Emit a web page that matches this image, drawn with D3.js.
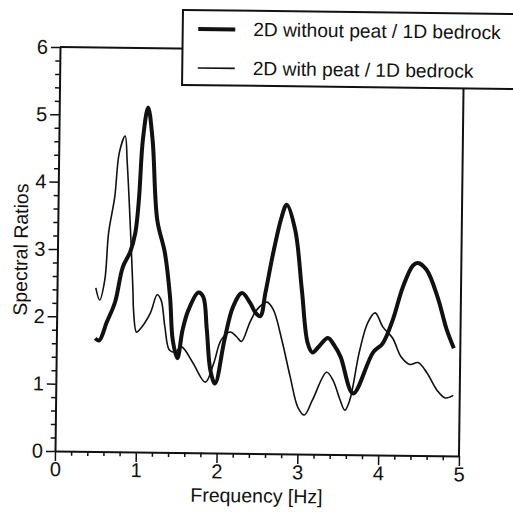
<!DOCTYPE html>
<html>
<head>
<meta charset="utf-8">
<script src="https://cdn.jsdelivr.net/npm/d3@7"></script>
<style>
  html, body { margin: 0; padding: 0; background: #fff; }
  text { font-family: "Liberation Sans", Arial, Helvetica, sans-serif; fill: #111; }
</style>
</head>
<body>
<svg id="chart" width="513" height="515"></svg>
<script>
// ---- data ----
const seriesNames = ["2D without peat / 1D bedrock", "2D with peat / 1D bedrock"];

const freqNoPeat = [0.48,0.53,0.62,0.72,0.81,0.90,0.96,1.00,1.04,1.10,1.16,1.23,1.33,1.40,1.44,1.50,1.56,1.63,1.75,1.81,1.86,1.91,1.97,2.08,2.18,2.29,2.39,2.46,2.52,2.58,2.67,2.77,2.83,2.94,3.03,3.11,3.17,3.25,3.36,3.44,3.52,3.68,3.92,4.04,4.16,4.28,4.40,4.46,4.57,4.71,4.83,4.92];
const ratioNoPeat = [1.68,1.65,1.92,2.22,2.74,2.97,3.25,3.75,4.64,5.12,4.64,3.45,2.96,2.31,1.67,1.40,1.82,2.12,2.38,2.32,1.83,1.23,1.03,1.68,2.17,2.38,2.24,2.09,2.04,2.39,2.98,3.52,3.70,3.32,2.44,1.65,1.51,1.60,1.73,1.62,1.45,0.91,1.52,1.66,2.01,2.50,2.82,2.86,2.76,2.36,1.87,1.60];

const freqPeat = [0.48,0.53,0.59,0.63,0.70,0.75,0.82,0.85,0.90,0.94,0.95,0.99,1.03,1.16,1.24,1.29,1.34,1.40,1.47,1.55,1.69,1.85,1.95,2.04,2.15,2.23,2.29,2.39,2.48,2.60,2.68,2.79,2.90,3.00,3.08,3.18,3.35,3.43,3.52,3.58,3.64,3.75,3.85,3.94,4.04,4.16,4.27,4.38,4.48,4.59,4.72,4.82,4.92];
const ratioPeat = [2.43,2.25,2.55,3.25,3.78,4.44,4.69,4.29,3.30,2.40,2.11,1.78,1.82,2.07,2.34,2.26,1.87,1.52,1.49,1.57,1.34,1.05,1.33,1.68,1.80,1.73,1.66,1.94,2.14,2.25,2.14,1.69,1.14,0.69,0.58,0.81,1.22,1.10,0.81,0.66,0.81,1.52,1.96,2.11,1.90,1.74,1.46,1.35,1.38,1.23,0.97,0.86,0.90];

const xTickValues = [0,1,2,3,4,5];
const yTickValues = [0,1,2,3,4,5,6];
const xTitle = "Frequency [Hz]";
const yTitle = "Spectral Ratios";

// ---- drawing ----
const svg = d3.select("#chart");
const x = d3.scaleLinear().domain([0,5]).range([55,459]);
const y = d3.scaleLinear().domain([0,6]).range([451,47]);

// the scanned figure is slightly tilted
const g = svg.append("g").attr("transform", "rotate(0.71, 55, 451)");

// frame (top & right)
g.append("path")
  .attr("d", `M${x(0)},${y(6)}H${x(5)}V${y(0)}`)
  .attr("fill","none").attr("stroke","#111").attr("stroke-width",2);

const minorX = d3.range(0, 5.001, 0.2).map(v => +v.toFixed(1)).filter(v => !xTickValues.includes(v));
const minorY = d3.range(0, 6.001, 0.2).map(v => +v.toFixed(1)).filter(v => !yTickValues.includes(v));

// x axis
const xAxisG = g.append("g").attr("transform", `translate(0,${y(0)})`);
xAxisG.call(d3.axisBottom(x).tickValues(xTickValues).tickSize(10).tickSizeOuter(0).tickPadding(1).tickFormat(d3.format("d")));
xAxisG.append("g").call(d3.axisBottom(x).tickValues(minorX).tickSize(4.5).tickSizeOuter(0).tickFormat(""))
  .select(".domain").remove();

// y axis
const yAxisG = g.append("g").attr("transform", `translate(${x(0)},0)`);
yAxisG.call(d3.axisLeft(y).tickValues(yTickValues).tickSize(9).tickSizeOuter(0).tickPadding(3).tickFormat(d3.format("d")));
yAxisG.append("g").call(d3.axisLeft(y).tickValues(minorY).tickSize(4.5).tickSizeOuter(0).tickFormat(""))
  .select(".domain").remove();

g.selectAll(".domain").attr("stroke","#111").attr("stroke-width",2);
g.selectAll(".tick line").attr("stroke","#111").attr("stroke-width",1.5);
g.selectAll(".tick text").style("font-size","20px").style("font-family","'Liberation Sans', Arial, sans-serif").attr("fill","#111");

// titles
g.append("text").attr("x", 257).attr("y", 500).attr("text-anchor","middle")
  .style("font-size","19.5px").text(xTitle);
g.append("text").attr("transform","translate(25,250) rotate(-90)").attr("text-anchor","middle")
  .style("font-size","19.5px").text(yTitle);

// lines
const line = d3.line().x(d => x(d[0])).y(d => y(d[1])).curve(d3.curveCatmullRom.alpha(0.5));
const dNoPeat = freqNoPeat.map((f,i) => [f, ratioNoPeat[i]]);
const dPeat = freqPeat.map((f,i) => [f, ratioPeat[i]]);

g.append("path").datum(dPeat).attr("d", line)
  .attr("fill","none").attr("stroke","#111").attr("stroke-width",1.6).attr("stroke-linejoin","round");
g.append("path").datum(dNoPeat).attr("d", line)
  .attr("fill","none").attr("stroke","#111").attr("stroke-width",4).attr("stroke-linejoin","round");

// legend
const lg = g.append("g");
lg.append("rect").attr("x",177.5).attr("y",8.4).attr("width",420).attr("height",75)
  .attr("fill","#fff").attr("stroke","#111").attr("stroke-width",2);
const legendRows = [{name: seriesNames[0], w: 4, yy: 27.2}, {name: seriesNames[1], w: 1.6, yy: 66.2}];
legendRows.forEach(r => {
  lg.append("line").attr("x1",193).attr("x2",230).attr("y1",r.yy).attr("y2",r.yy)
    .attr("stroke","#111").attr("stroke-width",r.w);
  lg.append("text").attr("x",248).attr("y",r.yy+6.5).style("font-size","19.2px").text(r.name);
});
</script>
</body>
</html>
